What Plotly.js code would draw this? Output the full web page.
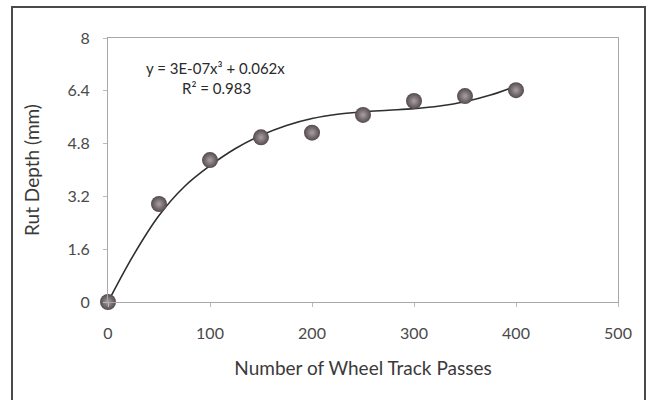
<!DOCTYPE html>
<html>
<head>
<meta charset="utf-8">
<script src="https://cdn.plot.ly/plotly-3.0.1.min.js"></script>
<style>
  html, body { margin: 0; padding: 0; background: #ffffff; }
  #wrap { position: relative; width: 653px; height: 400px; overflow: hidden; }
  #chart { position: absolute; left: 0; top: 0; width: 653px; height: 400px; }
  #frame { position: absolute; left: 11px; top: 6px; width: 631px; height: 410px;
           border: 2px solid #4a4a4a; pointer-events: none; }
</style>
</head>
<body>
<div id="wrap">
  <div id="chart"></div>
  <div id="frame"></div>
</div>
<script>
// Measured data points
const passes = [0, 50, 100, 150, 200, 250, 300, 350, 400];
const rutDepth = [0, 2.97, 4.3, 4.99, 5.13, 5.67, 6.09, 6.24, 6.42];

// Trend line
const trendX = [0, 25, 50, 75, 100, 125, 150, 175, 200, 225, 250, 275, 300, 325, 350, 375, 400];
const trendY = [0, 1.42, 2.62, 3.5, 4.13, 4.65, 5.05, 5.35, 5.56, 5.69, 5.76, 5.81, 5.86, 5.94, 6.07, 6.27, 6.54];

// Axis ticks
const xTicks = [0, 100, 200, 300, 400, 500];
const yTicks = [0, 1.6, 3.2, 4.8, 6.4, 8];
const yTickText = ['0', '1.6', '3.2', '4.8', '6.4', '8'];

// Labels
const xTitle = 'Number of Wheel Track Passes';
const yTitle = 'Rut Depth (mm)';
const eqText = 'y = 3E-07x³ + 0.062x';
const r2Text = 'R² = 0.983';

const FONT = 'Lato, "Open Sans", sans-serif';

const traces = [
  {
    x: trendX, y: trendY, type: 'scatter', mode: 'lines',
    line: { color: '#2e2e2e', width: 1.6, shape: 'spline', smoothing: 1 },
    hoverinfo: 'skip', showlegend: false
  },
  {
    x: passes, y: rutDepth, type: 'scatter', mode: 'markers', cliponaxis: false,
    marker: {
      size: 16, color: '#54494e',
      gradient: { type: 'radial', color: '#a8a1a4' },
      line: { width: 0 }
    },
    showlegend: false
  }
];

const layout = {
  width: 653, height: 400,
  margin: { l: 108, r: 35, t: 38, b: 98 },
  paper_bgcolor: '#ffffff', plot_bgcolor: '#ffffff',
  font: { family: FONT, color: '#555' },
  xaxis: {
    range: [0, 500], tickvals: xTicks, ticktext: xTicks.map(String),
    showgrid: false, zeroline: false,
    showline: true, linecolor: '#a8a8a8', linewidth: 1, mirror: true,
    ticks: 'outside', ticklen: 4, tickcolor: '#bbb', ticklabelstandoff: 13,
    tickfont: { family: FONT, size: 16, color: '#4a4a4a' },
    title: { text: xTitle, font: { family: FONT, size: 19, color: '#3a3a3a' }, standoff: 20 }
  },
  yaxis: {
    range: [0, 8], tickvals: yTicks, ticktext: yTickText,
    showgrid: false, zeroline: false,
    showline: true, linecolor: '#a8a8a8', linewidth: 1, mirror: true,
    ticks: 'outside', ticklen: 4, tickcolor: '#bbb', ticklabelstandoff: 10,
    tickfont: { family: FONT, size: 16, color: '#4a4a4a' },
    title: { text: yTitle, font: { family: FONT, size: 19, color: '#3a3a3a' }, standoff: 22 }
  },
  annotations: [
    { xref: 'paper', yref: 'paper', x: 0.21, y: 0.885, text: eqText, showarrow: false,
      font: { family: FONT, size: 15, color: '#2a2a2a' }, xanchor: 'center', yanchor: 'middle' },
    { xref: 'paper', yref: 'paper', x: 0.213, y: 0.81, text: r2Text, showarrow: false,
      font: { family: FONT, size: 15, color: '#2a2a2a' }, xanchor: 'center', yanchor: 'middle' }
  ]
};

Plotly.newPlot('chart', traces, layout, { displayModeBar: false, staticPlot: true });
</script>
</body>
</html>
